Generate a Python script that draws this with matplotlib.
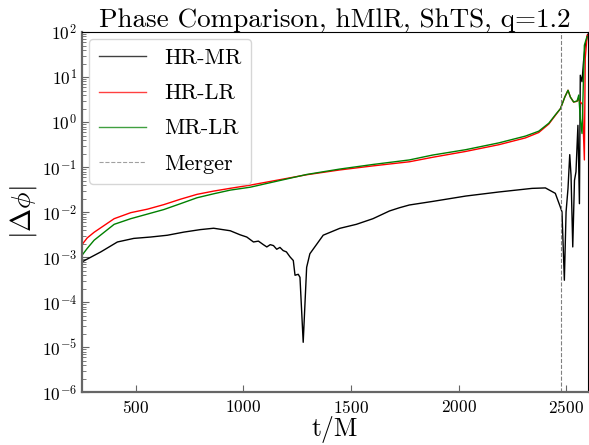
import numpy as np
import matplotlib
matplotlib.use("Agg")
import matplotlib.pyplot as plt

# Computer Modern look (matplotlib ships cmr10)
plt.rcParams['font.family'] = 'cmr10'
plt.rcParams['mathtext.fontset'] = 'cm'
plt.rcParams['axes.unicode_minus'] = False
plt.rcParams['axes.formatter.use_mathtext'] = True

# HR-MR phase difference
t_hrmr = [250, 338, 415, 491, 569, 647, 724, 800, 862, 939, 985, 1016, 1047, 1070,
          1093, 1109, 1125, 1140, 1155, 1170, 1185, 1200, 1217, 1232, 1240, 1255,
          1263, 1278, 1294, 1309, 1371, 1448, 1525, 1602, 1679, 1725, 1771, 1879,
          2033, 2187, 2341, 2403, 2449, 2472, 2480, 2491, 2499, 2508, 2516, 2522,
          2530, 2538, 2545, 2554, 2561, 2565, 2573, 2580, 2588, 2600]
dphi_hrmr = [7.9e-4, 1.32e-3, 2.19e-3, 2.63e-3, 2.82e-3, 3.09e-3, 3.63e-3, 4.12e-3,
             4.42e-3, 3.89e-3, 3.16e-3, 2.82e-3, 2.19e-3, 2.29e-3, 1.91e-3, 1.70e-3,
             1.91e-3, 1.82e-3, 1.51e-3, 1.66e-3, 1.41e-3, 1.32e-3, 1.02e-3, 8.5e-4,
             4.0e-4, 4.2e-4, 3.6e-4, 1.3e-5, 6.0e-4, 1.2e-3, 3.1e-3, 4.4e-3, 5.4e-3,
             7.2e-3, 1.07e-2, 1.26e-2, 1.45e-2, 1.74e-2, 2.29e-2, 2.82e-2, 3.39e-2,
             3.47e-2, 2.63e-2, 1.32e-2, 1.02e-2, 3.1e-4, 1.02e-2, 3.4e-2, 0.19,
             6.6e-2, 1.7e-3, 5.1e-2, 7.9e-2, 0.85, 1.55e-2, 11, 7.9, 22, 51, 89]

# HR-LR
t_hrlr = [250, 275, 307, 400, 477, 554, 631, 708, 785, 862, 939, 1032, 1294, 1448,
          1602, 1771, 1879, 2033, 2187, 2310, 2372, 2419, 2449, 2473, 2493, 2508,
          2519, 2534, 2550, 2558, 2565, 2575, 2584, 2588, 2597]
dphi_hrlr = [1.9e-3, 2.7e-3, 3.6e-3, 7.2e-3, 9.8e-3, 1.17e-2, 1.48e-2, 1.95e-2,
             2.5e-2, 2.95e-2, 3.4e-2, 4.0e-2, 6.8e-2, 8.7e-2, 0.107, 0.132, 0.166,
             0.224, 0.316, 0.447, 0.589, 0.91, 1.41, 2.0, 3.6, 5.1, 3.6, 2.8, 2.9,
             3.2, 2.8, 2.5, 0.145, 26, 85]

# MR-LR
t_mrlr = [250, 275, 307, 400, 477, 554, 631, 708, 785, 862, 939, 1032, 1294, 1448,
          1602, 1771, 1879, 2033, 2187, 2310, 2372, 2419, 2449, 2473, 2493, 2508,
          2519, 2534, 2550, 2558, 2565, 2573, 2584, 2596]
dphi_mrlr = [1.1e-3, 1.58e-3, 2.4e-3, 5.4e-3, 7.2e-3, 9.1e-3, 1.15e-2, 1.55e-2,
             2.1e-2, 2.57e-2, 3.1e-2, 3.6e-2, 6.9e-2, 9.1e-2, 0.115, 0.145, 0.186,
             0.245, 0.347, 0.49, 0.63, 0.95, 1.45, 2.0, 3.6, 5.1, 3.6, 2.8, 2.95,
             4.0, 1.2, 0.56, 51, 79]

t_merger = 2475

fig = plt.figure(figsize=(5.89, 4.45), dpi=100)
ax = fig.add_axes([0.139, 0.118, 0.859, 0.810])

ax.plot(t_hrmr, dphi_hrmr, color='black', lw=1.0, label='HR-MR')
ax.plot(t_hrlr, dphi_hrlr, color='red', lw=1.0, label='HR-LR')
ax.plot(t_mrlr, dphi_mrlr, color='green', lw=1.0, label='MR-LR')
ax.axvline(t_merger, color='gray', ls='--', lw=0.8, label='Merger')

ax.set_yscale('log')
ax.set_xlim(250, 2600)
ax.set_ylim(1e-6, 1e2)
ax.set_xticks([500, 1000, 1500, 2000, 2500])

# gray, heavier left/bottom spines like the original
for side in ['left', 'bottom']:
    ax.spines[side].set_color('0.4')
    ax.spines[side].set_linewidth(1.6)
ax.spines['top'].set_linewidth(0.8)

ax.tick_params(axis='both', which='both', direction='in', labelsize=12.5, color='0.4')
ax.tick_params(axis='both', which='major', length=5)
ax.tick_params(axis='x', which='major', pad=5)
ax.tick_params(axis='y', which='minor', length=3)

ax.set_title('Phase Comparison, hMlR, ShTS, q=1.2', fontsize=19.5, pad=3)
ax.set_xlabel('t/M', fontsize=18.5, labelpad=0)
ax.set_ylabel(r'$|\Delta\phi|$', fontsize=20, labelpad=2)

leg = ax.legend(loc='upper left', fontsize=16, handlelength=2.15, handletextpad=0.8,
                labelspacing=0.7, borderpad=0.45, borderaxespad=0.3)
for line in leg.get_lines():
    line.set_alpha(0.75)

fig.savefig('out.png', dpi=100)
